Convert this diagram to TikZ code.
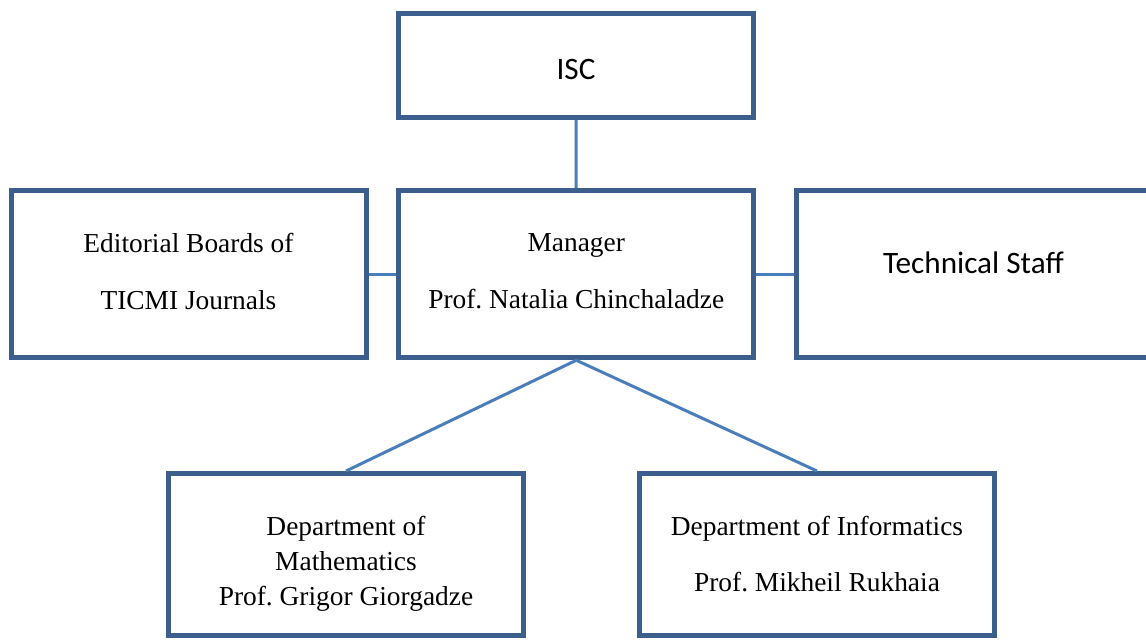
\documentclass[tikz,border=0pt]{standalone}
\usepackage{fontspec}
\setmainfont{Liberation Serif}
\newfontfamily\calib{Carlito}
\usepackage{xcolor}
\usetikzlibrary{positioning}
\definecolor{boxblue}{HTML}{3B5E8C}
\definecolor{lineblue}{HTML}{4A7EBB}
\frenchspacing

\begin{document}
\begin{tikzpicture}[
  x=0.5pt, y=-0.5pt,
  orgbox/.style={draw=boxblue, line width=2.5pt, align=center, inner sep=0pt,
                 minimum width=177.5pt, minimum height=83.75pt,
                 font=\fontsize{13.7}{17.5}\selectfont},
  sansbox/.style={orgbox, font=\calib\fontsize{15.6}{19}\selectfont},
  link/.style={draw=lineblue, line width=1.5pt}
]
\useasboundingbox (0,0) rectangle (1146,639);
\node[sansbox, minimum height=52pt] (isc) at (576,65.5) {\rule{0pt}{14pt}ISC};
\node[orgbox] (boards) at (188.5,274) {Editorial Boards of\\[11pt]TICMI Journals\rule[-3pt]{0pt}{3pt}};
\node[orgbox] (manager) at (576.25,274) {Manager\\[11pt]Prof. Natalia Chinchaladze\rule[-3pt]{0pt}{3pt}};
\node[sansbox] (staff) at (973.5,274) {Technical Staff\rule[-11pt]{0pt}{11pt}};
\node[orgbox, minimum height=81pt] (math) at (346,554.5) {\rule{0pt}{19pt}Department of\\Mathematics\\Prof. Grigor Giorgadze};
\node[orgbox, minimum height=81pt] (informatics) at (817,554.5) {Department of Informatics\\[10.5pt]Prof. Mikheil Rukhaia};
\path[link] (isc) -- (manager);
\path[link] (boards) -- (manager);
\path[link] (manager) -- (staff);
\path[link] (manager.south) -- (math.north);
\path[link] (manager.south) -- (informatics.north);
\end{tikzpicture}
\end{document}
